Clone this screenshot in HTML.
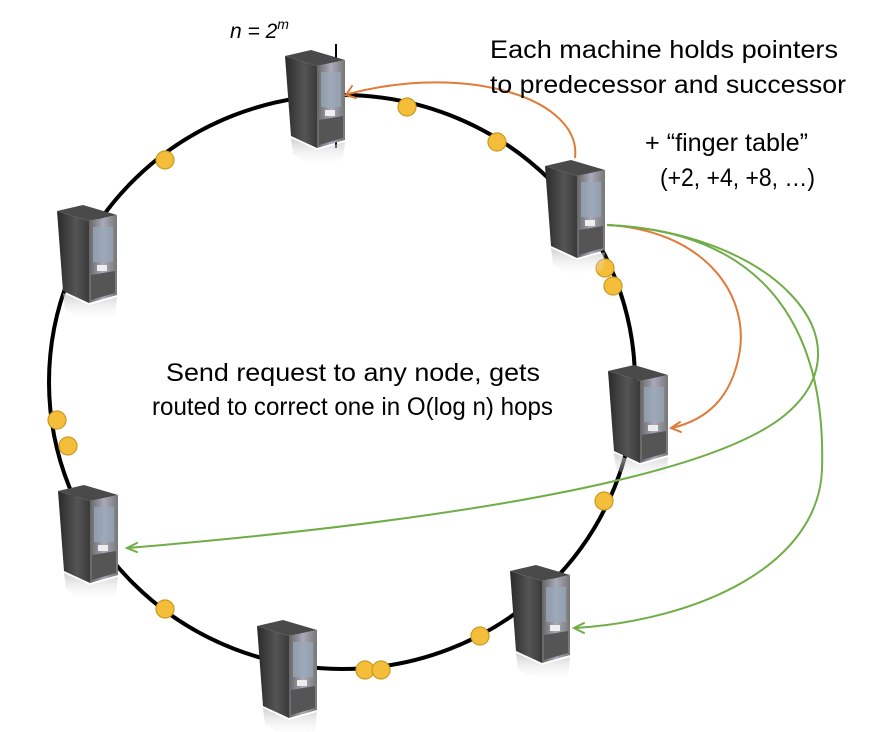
<!DOCTYPE html>
<html><head><style>
html,body{margin:0;padding:0;background:#fff;}
svg{display:block;}
text{font-family:"Liberation Sans",sans-serif;}
</style></head><body>
<svg width="880" height="732" viewBox="0 0 880 732" xmlns="http://www.w3.org/2000/svg">
<defs>
<linearGradient id="side" x1="0" y1="0" x2="1" y2="0">
<stop offset="0" stop-color="#2a2a2a"/><stop offset="0.6" stop-color="#555"/><stop offset="1" stop-color="#3a3a3a"/>
</linearGradient>
<linearGradient id="front" x1="0" y1="0" x2="1" y2="0">
<stop offset="0" stop-color="#666"/><stop offset="0.5" stop-color="#aab"/><stop offset="1" stop-color="#777"/>
</linearGradient>
<linearGradient id="refl" x1="0" y1="0" x2="0" y2="1">
<stop offset="0" stop-color="#bbb" stop-opacity="0.7"/><stop offset="1" stop-color="#fff" stop-opacity="0"/>
</linearGradient>
<g id="srv">
<polygon points="2,6 34,16 34,98 8,86" fill="url(#side)"/>
<polygon points="2,6 28,0 62,10 34,16" fill="#4a4a4a"/>
<polygon points="34,16 62,10 62,90 34,98" fill="url(#front)"/>
<rect x="38" y="22" width="20" height="35" fill="#9ab" opacity="0.7"/>
<rect x="42" y="60" width="10" height="6" fill="#eee"/>
<polygon points="36,70 60,66 60,88 36,95" fill="#555"/>
<polygon points="8,88 34,100 62,92 60,110 30,118 10,104" fill="url(#refl)"/>
</g>
</defs>

<ellipse cx="342" cy="382" rx="293" ry="287" fill="none" stroke="#000" stroke-width="4"/>
<line x1="336" y1="44" x2="336" y2="148" stroke="#000" stroke-width="2"/>

<g fill="#f4bd3a" stroke="#c99a1e" stroke-width="1.2">
<circle cx="407" cy="107" r="9"/><circle cx="497" cy="142" r="9"/><circle cx="165" cy="160" r="9"/>
<circle cx="605" cy="268" r="9"/><circle cx="613" cy="286" r="9"/><circle cx="57" cy="420" r="9"/>
<circle cx="68" cy="446" r="9"/><circle cx="604" cy="501" r="9"/><circle cx="165" cy="609" r="9"/>
<circle cx="480" cy="636" r="9"/><circle cx="365" cy="670" r="9"/><circle cx="381" cy="670" r="9"/>
</g>

<use href="#srv" x="283" y="50"/>
<use href="#srv" x="543" y="160"/>
<use href="#srv" x="55" y="205"/>
<use href="#srv" x="606" y="365"/>
<use href="#srv" x="56" y="485"/>
<use href="#srv" x="508" y="565"/>
<use href="#srv" x="255" y="620"/>

<g fill="none" stroke-width="2">
<path d="M575,158 C582,100 470,62 348,94" stroke="#e07b39"/>
<path d="M607,225 C700,230 748,290 740,350 C732,400 705,420 672,428" stroke="#e07b39"/>
<path d="M607,225 C770,232 875,340 785,415 C700,485 400,525 128,548" stroke="#70ad47"/>
<path d="M607,225 C775,232 826,340 822,470 C818,565 700,620 575,628" stroke="#70ad47"/>
</g>
<g stroke-width="2" fill="none" stroke-linecap="round">
<path d="M352,86 L346,95 L356,98" stroke="#e07b39"/>
<path d="M680,422 L671,428 L681,432" stroke="#e07b39"/>
<path d="M137,543 L127,548 L137,552" stroke="#70ad47"/>
<path d="M584,623 L574,628 L584,633" stroke="#70ad47"/>
</g>

<text x="230" y="38" font-size="21" font-style="italic">n = 2<tspan font-size="14" dy="-9">m</tspan></text>
<g font-size="25" lengthAdjust="spacingAndGlyphs">
<text x="490" y="58" textLength="348" lengthAdjust="spacingAndGlyphs">Each machine holds pointers</text>
<text x="490" y="93" textLength="356" lengthAdjust="spacingAndGlyphs">to predecessor and successor</text>
<text x="645" y="151" textLength="163" lengthAdjust="spacingAndGlyphs">+ “finger table”</text>
<text x="660" y="186" textLength="155" lengthAdjust="spacingAndGlyphs">(+2, +4, +8, …)</text>
<text x="166" y="381" textLength="374" lengthAdjust="spacingAndGlyphs">Send request to any node, gets</text>
<text x="152" y="415" textLength="401" lengthAdjust="spacingAndGlyphs">routed to correct one in O(log n) hops</text>
</g>
</svg>
</body></html>
